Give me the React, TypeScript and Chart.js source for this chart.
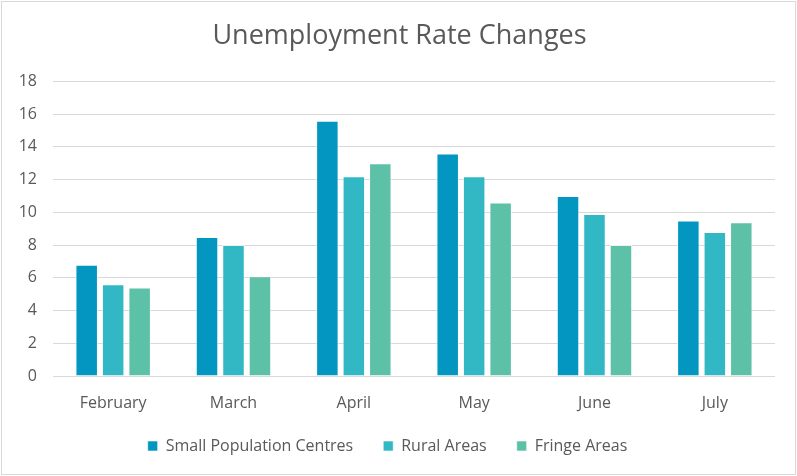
import React, { useEffect, useRef } from "react";
import { Chart, registerables } from "chart.js";

Chart.register(...registerables);

const categories = ["February", "March", "April", "May", "June", "July"];
const smallPopulationCentres = [6.8, 8.5, 15.6, 13.6, 11.0, 9.5];
const ruralAreas = [5.6, 8.0, 12.2, 12.2, 9.9, 8.8];
const fringeAreas = [5.4, 6.1, 13.0, 10.6, 8.0, 9.4];
const seriesNames = ["Small Population Centres", "Rural Areas", "Fringe Areas"];
const seriesColors = ["#0396c0", "#31b8c4", "#5dc1a8"];

const FONT = "'Open Sans', Lato, sans-serif";
const GREY = "#595959";

const boxShift = {
  id: "boxShift",
  afterLayout(chart: any) {
    const lg = chart.legend;
    if (lg) {
      lg.top -= 8;
      lg.bottom -= 8;
    }
    const t = chart.titleBlock;
    if (t) {
      t.left += 12;
      t.right += 12;
    }
  },
};

export default function App() {
  const ref = useRef<HTMLCanvasElement | null>(null);
  useEffect(() => {
    if (!ref.current) return;
    const values = [smallPopulationCentres, ruralAreas, fringeAreas];
    const chart = new Chart(ref.current, {
      type: "bar",
      data: {
        labels: categories,
        datasets: seriesNames.map((name, i) => ({
          label: name,
          data: values[i],
          backgroundColor: seriesColors[i],
          borderColor: "rgba(255,255,255,0.6)",
          borderWidth: 1,
          categoryPercentage: 0.66,
          barPercentage: 0.85,
        })),
      },
      options: {
        animation: false,
        responsive: false,
        layout: { padding: { left: 0, right: 22, top: 0, bottom: 4 } },
        plugins: {
          title: {
            display: true,
            text: "Unemployment Rate Changes",
            color: GREY,
            font: { family: FONT, size: 27, weight: "normal" },
            padding: { top: 20, bottom: 29 },
          },
          legend: {
            position: "bottom",
            labels: {
              color: GREY,
              font: { family: FONT, size: 16 },
              boxWidth: 10,
              boxHeight: 10,
              padding: 30,
            },
          },
          tooltip: { enabled: false },
        },
        scales: {
          x: {
            grid: { display: false, drawTicks: false },
            border: { display: false },
            ticks: { color: GREY, font: { family: FONT, size: 16 }, padding: 18 },
            afterFit: (scale: any) => {
              scale.height = 40;
            },
          },
          y: {
            min: 0,
            max: 18,
            grid: { color: "#d9d9d9", drawTicks: false },
            border: { display: false },
            ticks: {
              stepSize: 2,
              color: GREY,
              font: { family: FONT, size: 16 },
              padding: 16,
            },
            afterFit: (scale: any) => {
              scale.width = 53;
            },
          },
        },
      },
      plugins: [boxShift],
    });
    return () => chart.destroy();
  }, []);
  return (
    <div style={{ position: "fixed", left: 0, top: 0, width: 797, height: 476, background: "#fff" }}>
      <canvas ref={ref} width={797} height={476} style={{ display: "block" }} />
      <div
        style={{
          position: "absolute",
          left: 1,
          top: 1,
          right: 1,
          bottom: 1,
          border: "1px solid #d9d9d9",
          pointerEvents: "none",
        }}
      />
    </div>
  );
}
